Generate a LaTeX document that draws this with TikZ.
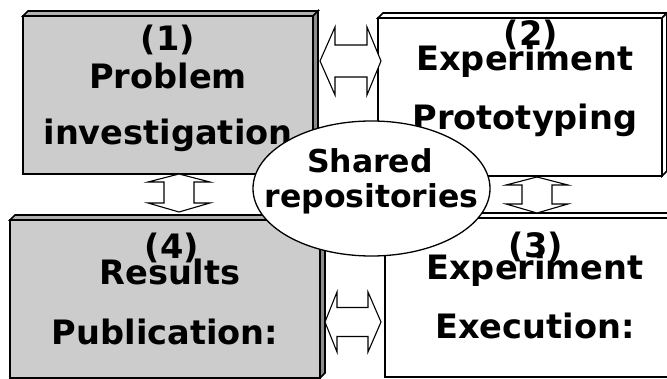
\documentclass[tikz,border=0pt]{standalone}
\usepackage{fontspec}
\setmainfont{DejaVu Sans}
\usetikzlibrary{shapes.geometric}
\begin{document}
\begin{tikzpicture}[x=1pt,y=-1pt,
  boxline/.style={draw=black, line width=1.6pt, line join=miter},
  graybox/.style={boxline, fill=black!20, rectangle, inner sep=0pt, outer sep=0pt},
  whitebox/.style={boxline, fill=white, rectangle, inner sep=0pt, outer sep=0pt},
  graytop/.style={boxline, fill=black!30},
  grayside/.style={boxline, fill=black!45},
  whitebevel/.style={boxline, fill=white},
  lbl/.style={font=\fontsize{33.6}{38}\selectfont\bfseries, inner sep=0pt, anchor=base},
  replbl/.style={font=\fontsize{31.5}{36}\selectfont\bfseries, inner sep=0pt, anchor=base},
  blockarrow/.style={draw=black, line width=1.1pt, fill=white, line join=miter},
  repo/.style={ellipse, draw=black, line width=1.3pt, fill=white, inner sep=0pt}
]
\clip (0,0) rectangle (667,379);
\useasboundingbox (0,0) rectangle (667,379);

% ---- four stage boxes: front faces ----
\node[graybox,  minimum width=290, minimum height=158] (b1) at (168,95)   {};
\node[whitebox, minimum width=284, minimum height=158] (b2) at (520,97)   {};
\node[whitebox, minimum width=295, minimum height=159] (b3) at (532.5,297.5) {};
\node[graybox,  minimum width=310, minimum height=158] (b4) at (165,299)  {};

% ---- bevelled top and right edges ----
\foreach \b/\top/\side in {b1/graytop/grayside, b4/graytop/grayside,
                           b2/whitebevel/whitebevel, b3/whitebevel/whitebevel}{
  \path[\top] (\b.north west) -- ([shift={(5,-5)}]\b.north west)
     -- ([shift={(5,-5)}]\b.north east) -- (\b.north east) -- cycle;
  \path[\side] (\b.north east) -- ([shift={(5,-5)}]\b.north east)
     -- ([shift={(5,-5)}]\b.south east) -- (\b.south east) -- cycle;
  \path[boxline] (\b.north west) rectangle (\b.south east);
}

% ---- box captions ----
\node[lbl] (n1) at (168,51)  {(1)};
\node[lbl] (p1) at (168,89)  {Problem};
\node[lbl] (q1) at (168,145) {investigation};

\node[lbl] (n2) at (531,46)  {(2)};
\node[lbl] (p2) at (525,71)  {Experiment};
\node[lbl] (q2) at (525,130) {Prototyping};

\node[lbl] (n3) at (536,258) {(3)};
\node[lbl] (p3) at (535,280) {Experiment};
\node[lbl] (q3) at (535,339) {Execution:};

\node[lbl] (n4) at (172,259) {(4)};
\node[lbl] (p4) at (170,285) {Results};
\node[lbl] (q4) at (165,345) {Publication:};

% ---- double block arrows between neighbouring stages ----
% (1) <-> (2)
\path[blockarrow] (320,61) -- (335,27) -- (335,45) -- (367,45) -- (367,27)
  -- (381,61) -- (367,95) -- (367,77) -- (335,77) -- (335,95) -- cycle;
% (4) <-> (3)
\path[blockarrow] (325,322) -- (337,292) -- (337,307.5) -- (368,307.5) -- (368,292)
  -- (381,322) -- (368,352) -- (368,336.5) -- (337,336.5) -- (337,352) -- cycle;
% (1) <-> (4)
\path[blockarrow] (179,174) -- (210,182) -- (194,182) -- (194,203) -- (210,203)
  -- (179,212) -- (148,203) -- (164,203) -- (164,182) -- (148,182) -- cycle;
% (2) <-> (3)
\path[blockarrow] (537,177) -- (568,185) -- (552,185) -- (552,204) -- (568,204)
  -- (537,213) -- (506,204) -- (522,204) -- (522,185) -- (506,185) -- cycle;

% ---- shared repositories in the middle ----
\node[repo, minimum width=237, minimum height=135] (rep) at (371.5,188.5) {};
\node[replbl] (r1) at (370,173)   {Shared};
\node[replbl] (r2) at (371.5,208) {repositories};
\end{tikzpicture}
\end{document}
